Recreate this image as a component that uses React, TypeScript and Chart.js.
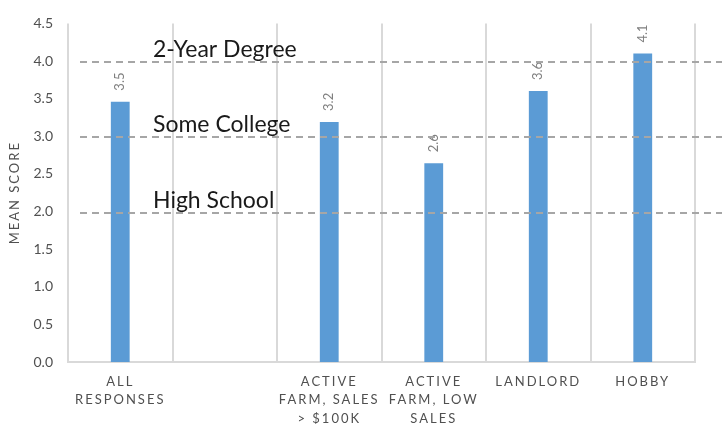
import React, { useEffect, useRef } from "react";
import { Chart, registerables } from "chart.js";

Chart.register(...registerables);

const categories: (string | string[])[] = [
  ["ALL", "RESPONSES"],
  "",
  ["ACTIVE", "FARM, SALES", "> $100K"],
  ["ACTIVE", "FARM, LOW", "SALES"],
  "LANDLORD",
  "HOBBY",
];
const meanScores: (number | null)[] = [3.46, null, 3.19, 2.64, 3.6, 4.1];
const referenceLevels = [4, 3, 2];
const referenceLabels = ["2-Year Degree", "Some College", "High School"];
const yMin = 0;
const yMax = 4.5;
const yStep = 0.5;

const overlayPlugin = {
  id: "overlay",
  beforeDraw(chart: any) {
    chart.ctx.letterSpacing = "2px";
  },
  beforeDatasetsDraw(chart: any) {
    chart.ctx.letterSpacing = "0px";
  },
  afterDatasetsDraw(chart: any) {
    const ctx = chart.ctx;
    const meta = chart.getDatasetMeta(0);
    ctx.save();
    ctx.letterSpacing = "0px";
    ctx.font = "13px Lato";
    ctx.fillStyle = "#7f7f7f";
    meta.data.forEach((bar: any, i: number) => {
      const v = meanScores[i];
      if (v == null) return;
      ctx.save();
      ctx.translate(bar.x, bar.y - 11);
      ctx.rotate(-Math.PI / 2);
      ctx.textAlign = "left";
      ctx.textBaseline = "middle";
      ctx.fillText(v.toFixed(1), 0, 0);
      ctx.restore();
    });
    const ys = chart.scales.y;
    const left = chart.chartArea.left + 12;
    ctx.setLineDash([7, 5]);
    ctx.strokeStyle = "#a6a6a6";
    ctx.lineWidth = 2;
    ctx.font = "23px Lato";
    ctx.fillStyle = "#1a1a1a";
    ctx.textAlign = "left";
    ctx.textBaseline = "alphabetic";
    referenceLevels.forEach((lv, i) => {
      const py = Math.round(ys.getPixelForValue(lv)) + 1;
      ctx.beginPath();
      ctx.moveTo(left, py);
      ctx.lineTo(chart.width, py);
      ctx.stroke();
      ctx.fillText(referenceLabels[i], chart.chartArea.left + 85, py - 5);
    });
    ctx.restore();
  },
};

export default function App() {
  const ref = useRef<HTMLCanvasElement>(null);
  useEffect(() => {
    if (!ref.current) return;
    const chart = new Chart(ref.current, {
      type: "bar",
      data: {
        labels: categories,
        datasets: [
          {
            data: meanScores,
            backgroundColor: "#5b9bd5",
            borderWidth: 0,
            barPercentage: 0.18,
            categoryPercentage: 1,
          },
        ],
      },
      options: {
        animation: false,
        responsive: false,
        maintainAspectRatio: false,
        layout: { padding: { top: 18, right: 27, left: 0, bottom: 0 } },
        plugins: {
          legend: { display: false },
          tooltip: { enabled: false },
        },
        scales: {
          x: {
            offset: true,
            grid: {
              offset: true,
              display: true,
              drawTicks: false,
              color: "#d9d9d9",
              lineWidth: 2,
            },
            border: { display: true, color: "#d9d9d9", width: 2 },
            ticks: {
              color: "#505050",
              font: { family: "Lato", size: 13, lineHeight: 1.4 },
              padding: 11,
              maxRotation: 0,
              minRotation: 0,
              autoSkip: false,
            },
            afterFit: (s: any) => {
              s.height = 62;
            },
          },
          y: {
            min: yMin,
            max: yMax,
            grid: { display: false, drawTicks: false },
            border: { display: false },
            ticks: {
              stepSize: yStep,
              color: "#505050",
              font: { family: "Lato", size: 14 },
              padding: 15,
              z: 1,
              callback: (v: any) => Number(v).toFixed(1),
            },
            title: {
              display: true,
              text: "MEAN SCORE",
              color: "#505050",
              font: { family: "Lato", size: 13 },
              padding: { top: 7, bottom: 0 },
            },
            afterFit: (s: any) => {
              s.width = 68;
            },
          },
        },
      },
      plugins: [overlayPlugin],
    });
    return () => chart.destroy();
  }, []);
  return (
    <div style={{ position: "fixed", left: 0, top: 0, width: 722, height: 424, background: "#fff" }}>
      <canvas ref={ref} width={722} height={424} style={{ width: 722, height: 424 }} />
    </div>
  );
}
